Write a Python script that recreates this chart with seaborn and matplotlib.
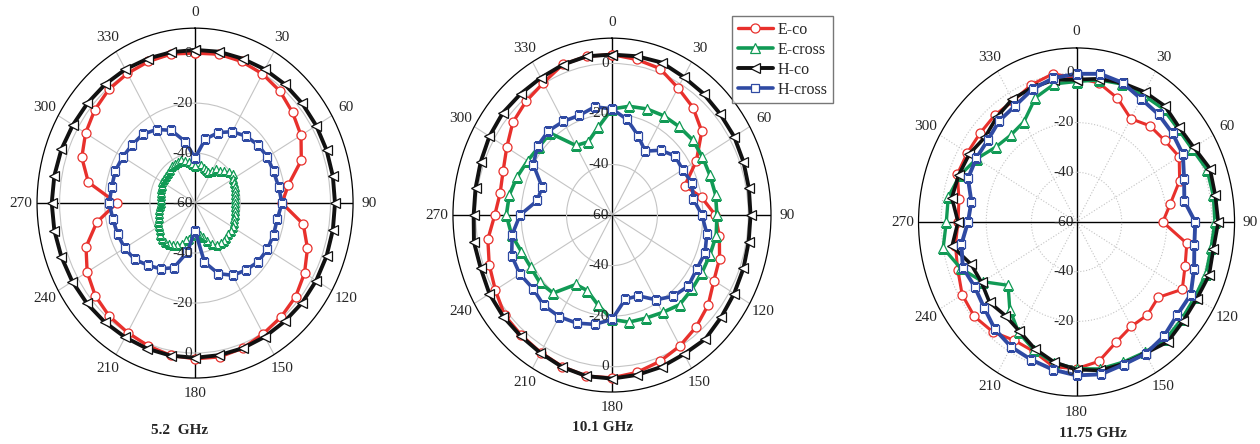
import numpy as np
import pandas as pd
import seaborn as sns
import matplotlib.pyplot as plt

# angles in degrees (clockwise from top)
ang10 = list(range(0, 360, 10))
ang5 = list(range(0, 360, 5))
tick_angles = list(range(0, 360, 30))
r_ticks = [-40, -20, 0]

# 5.2 GHz
eco_52 = [0, 0.5, 0.3, -0.3, -1.5, -3.6, -5.8, -9.9, -18, -21.5, -11.3, -7, -4, -1.8, -0.6, 0.4, 1.8, 2.5,
          2.3, 1.9, 0.8, -0.2, -0.9, -2.3, -4.8, -8.6, -15.8, -25.3, -12, -6.6, -4, -2, -0.6, -0.1, 0.3, 0.6]
ecross_52 = [-45, -44, -44.5, -45.5, -46, -46.3, -45, -43.5, -43, -42, -40.5, -39.6, -40.5, -41, -41.2, -41.8,
             -42, -42.2, -42.3, -42.2, -42, -41.8, -41.5, -41, -40.5, -40.5, -40.8, -40.5, -40, -40.3, -40.5, -42,
             -44, -46, -47, -48, -48.5, -47, -45.5, -44.6, -42.5, -41.5, -40.5, -40, -39.5, -39.5, -40, -41,
             -41.5, -42, -43, -43.5, -44, -44.5, -44.7, -44.7, -44.7, -44.5, -44, -43.7, -43.3, -43.3, -43, -43,
             -42.5, -42, -41.8, -41.7, -41.7, -42.5, -43.5, -44.5]
hco_52 = [1.3, 1.5, 1.5, 1.8, 2, 2, 2, 2, 2, 2, 2, 2, 2, 2, 1.8, 1.8, 1.8, 1.8,
          1.9, 2, 2, 2, 2.2, 2.5, 2.8, 3, 3.3, 3.5, 3.3, 3, 2.5, 2.2, 2, 1.8, 1.5, 1.3]
hcross_52 = [-42, -34, -30, -27, -25, -23.7, -23, -23, -22.4, -21.5, -23, -23, -23, -23.5, -25, -26.6, -30, -36,
             -49, -40, -32.5, -29.6, -27.5, -25, -24, -23.5, -23, -22, -22.5, -22.4, -23, -23.7, -24, -26, -29, -35]

# 10.1 GHz
eco_101 = [3.5, 2.5, 1.7, -1.9, -4.5, -8.4, -17.1, -25.9, -19.9, -14.5, -12, -9.6, -8.2, -4.7, -2.3, -0.2, 1.6, 3.2,
           4.4, 4.7, 3.8, 2.8, 2.1, 1.7, -0.7, -2.5, -4.5, -8.4, -10, -9, -6.5, -3, -1.2, 0.4, 3.4, 3.8]
ecross_101 = [-18, -16.3, -15.3, -14.6, -14.2, -13.7, -14, -14.1, -13.7, -13.8, -13.4, -14.1, -14.3, -14.2, -13.7,
              -15.5, -16.6, -17, -18.7, -24, -28.2, -28.3, -19.7, -18.5, -18.7, -17.6, -15.1, -13.5, -14.1, -15.6,
              -17.1, -18, -17.7, -28.2, -29.2, -24.8]
hco_101 = [3.5, 3.8, 4.2, 3.1, 2.7, 2.2, 2.1, 1.6, 1.2, 1, 1.1, 1.6, 2.1, 2.8, 4, 3.5, 3.9, 4.2,
           4.7, 4.7, 4, 3, 2.5, 2.5, 2.3, 1.5, 1.7, 0.9, 1, 1.5, 2.3, 2.8, 2.6, 2.7, 3.3, 3.8]
hcross_101 = [-18, -21.6, -26.5, -30.8, -26.5, -23.7, -24.1, -22.6, -23.6, -20.4, -17.6, -16.4, -17, -16.2, -18.1,
              -21.3, -26, -26.2, -18.7, -16.1, -14.5, -13.6, -13.3, -14.7, -13.2, -13, -15.4, -19.5, -26.7, -27.2,
              -20, -17.3, -16.5, -17.2, -18, -16.5]

# 11.75 GHz
eco_1175 = [-2.1, -3.2, -7, -12, -9.5, -9, -7.5, -11.4, -17.8, -21.8, -10.4, -8.8, -5.9, -12.8, -11.2, -11.5, -8.6,
            -3.1, -1, -0.9, -4.6, -5, -2.3, -0.9, -1.5, -4, -5.5, -7.5, -7.1, -3.8, -4.2, -4.3, -3.8, -3.8, -1.3, 0.5]
ecross_1175 = [-3.5, -2, -1, -1, -0.5, -1.5, -1, 1.5, 1.5, 1.3, 0.5, 1, 0.5, 0.8, 1.5, 0.5, 0, 0,
               -1, -2.5, -5.1, -8.7, -14, -20.4, -12, -5.4, 0, -2.3, -2.3, -5, -9, -13.2, -14.5, -13.4, -6.8, -3.6]
hco_1175 = [-2.7, -1.5, -0.5, 0.4, 0.9, -0.7, 0, 2.9, 2.4, 2.8, 1.6, 2.5, 1.6, 1.8, 2.9, 1, 0.7, 0.6,
            -0.6, -2.8, -5.8, -9.3, -10.9, -9.7, -11.4, -10.3, -4, -7.5, -3.9, -4.5, -5.2, -7, -5, -3, -2.5, -2]
hcross_1175 = [-0.4, 0.5, -0.4, -2.8, -3.5, -4.5, -5.6, -9.3, -11.5, -7.4, -7, -4.6, -1.6, -1.8, 0.1, 1.2, 1, 2.2,
               1.7, 0.3, -1.1, -2, -3.7, -6.5, -7.9, -6.4, -8.2, -11.9, -12.7, -8.8, -8.7, -8.7, -6.8, -5.9, -3.1, -1.2]

titles = ['5.2  GHz', '10.1 GHz', '11.75 GHz']

styles = {
    'E-co': dict(color='#e8302c', marker='o'),
    'E-cross': dict(color='#119a55', marker='^'),
    'H-co': dict(color='#111111', marker='<'),
    'H-cross': dict(color='#2f4aa3', marker='s'),
}

sns.set_style('white')
plt.rcParams['font.family'] = ['Liberation Serif', 'DejaVu Serif']

fig = plt.figure(figsize=(12.6, 4.44), dpi=100)
boxes = [[0.0294, 0.1486, 0.2508, 0.788],
         [0.3595, 0.1171, 0.2524, 0.797],
         [0.7290, 0.1080, 0.2508, 0.784]]


def panel(ax, curves, grid_ls):
    ax.set_theta_zero_location('N')
    ax.set_theta_direction(-1)
    for name, ang, vals, lw, ms in curves:
        st = styles[name]
        th = np.deg2rad(ang + [ang[0] + 360])
        r = vals + [vals[0]]
        df = pd.DataFrame({'theta': th, 'r': r})
        sns.lineplot(data=df, x='theta', y='r', ax=ax, sort=False, estimator=None,
                     color=st['color'], lw=lw, marker=st['marker'], ms=ms,
                     mfc='white', mec=st['color'], mew=0.9, label=name, legend=False)
    ax.set_ylim(-60, 10)
    ax.set_rticks(r_ticks)
    ax.set_yticklabels([])
    ax.set_xticks(np.deg2rad(tick_angles))
    ax.set_xticklabels([str(a) for a in tick_angles], fontsize=11)
    ax.tick_params(axis='x', pad=1)
    ax.set_xlabel('')
    ax.set_ylabel('')
    ax.grid(True, color='#c4c4c4', lw=0.8, ls=grid_ls)
    for a, gl in zip(tick_angles, ax.xaxis.get_gridlines()):
        if a % 90 == 0:
            gl.set_color('black')
            gl.set_linestyle('-')
            gl.set_linewidth(1.0)
    ax.spines['polar'].set_color('black')
    ax.spines['polar'].set_linewidth(0.9)
    ax.set_aspect('auto')
    for v in r_ticks:
        for t in (0, np.pi):
            ax.annotate(str(v), xy=(t, v), xytext=(-2, 0), textcoords='offset points',
                        ha='right', va='center', fontsize=11)
    ax.annotate('-60', xy=(0, -60), xytext=(-2, 0), textcoords='offset points',
                ha='right', va='center', fontsize=11)


data = [
    [('E-co', ang10, eco_52, 2.4, 6.5), ('E-cross', ang5, ecross_52, 1.2, 5.5),
     ('H-co', ang10, hco_52, 2.8, 6.5), ('H-cross', ang10, hcross_52, 2.6, 6)],
    [('E-co', ang10, eco_101, 2.4, 6.5), ('E-cross', ang10, ecross_101, 2.6, 6.5),
     ('H-co', ang10, hco_101, 2.8, 6.5), ('H-cross', ang10, hcross_101, 2.6, 6)],
    [('E-co', ang10, eco_1175, 2.2, 6.5), ('E-cross', ang10, ecross_1175, 2.4, 6.5),
     ('H-co', ang10, hco_1175, 2.6, 6.5), ('H-cross', ang10, hcross_1175, 2.8, 6)],
]
grid_styles = ['-', '-', ':']
axes = []
for box, curves, gls in zip(boxes, data, grid_styles):
    ax = fig.add_axes(box, projection='polar')
    panel(ax, curves, gls)
    axes.append(ax)

title_pos = [(180 / 1260, 1 - 430 / 444), (603 / 1260, 1 - 427 / 444), (1093 / 1260, 1 - 433 / 444)]
for (x, y), t in zip(title_pos, titles):
    fig.text(x, y, t, ha='center', va='center', fontsize=11, fontweight='bold')

handles, labels = axes[1].get_legend_handles_labels()
fig.legend(handles, labels, loc='upper left', bbox_to_anchor=(732 / 1260, 1 - 16 / 444),
           frameon=True, fancybox=False, edgecolor='#555555', fontsize=11.5,
           handlelength=2.2, borderpad=0.35, labelspacing=0.25, handletextpad=0.3,
           borderaxespad=0)

fig.savefig('out.png', dpi=100)
